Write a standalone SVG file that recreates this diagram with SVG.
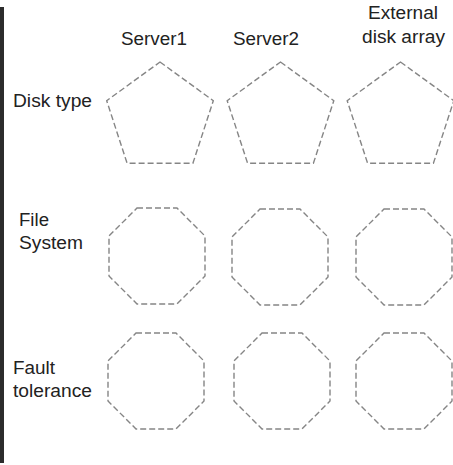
<svg xmlns="http://www.w3.org/2000/svg" width="453" height="465" viewBox="0 0 453 465">
<style>
.lbl{font-family:"Liberation Sans",Arial,sans-serif;font-size:17.5px;fill:#222}
.shape{fill:none;stroke:#858585;stroke-width:1.4;stroke-dasharray:6 3}
</style>
<rect x="0" y="0" width="453" height="465" fill="#ffffff"/>
<rect id="bar" x="0" y="7" width="4" height="456" fill="#2c2c2c"/>
<g id="headers">
<text class="lbl" x="121" y="45" textLength="66" lengthAdjust="spacingAndGlyphs">Server1</text>
<text class="lbl" x="233" y="45" textLength="66" lengthAdjust="spacingAndGlyphs">Server2</text>
<text class="lbl" x="368" y="18.5" textLength="70" lengthAdjust="spacingAndGlyphs">External</text>
<text class="lbl" x="362" y="42.5" textLength="83" lengthAdjust="spacingAndGlyphs">disk array</text>
</g>
<g id="rowlabels">
<text class="lbl" x="13" y="107" textLength="79" lengthAdjust="spacingAndGlyphs">Disk type</text>
<text class="lbl" x="19" y="226" textLength="30" lengthAdjust="spacingAndGlyphs">File</text>
<text class="lbl" x="19" y="248.5" textLength="64" lengthAdjust="spacingAndGlyphs">System</text>
<text class="lbl" x="13" y="374" textLength="42" lengthAdjust="spacingAndGlyphs">Fault</text>
<text class="lbl" x="13" y="397" textLength="79" lengthAdjust="spacingAndGlyphs">tolerance</text>
</g>
<g id="disk-server1"><polygon class="shape" points="160,62 213.3,100.7 192.9,163.3 127.1,163.3 106.7,100.7"/></g>
<g id="disk-server2"><polygon class="shape" points="280.5,62 333.8,100.7 313.4,163.3 247.6,163.3 227.2,100.7"/></g>
<g id="disk-array"><polygon class="shape" points="400.5,62 453.8,100.7 433.4,163.3 367.6,163.3 347.2,100.7"/></g>
<g id="fs-server1"><polygon class="shape" points="137,208 177,208 205,236 205,276 177,304 137,304 109,276 109,236"/></g>
<g id="fs-server2"><polygon class="shape" points="260,209 300,209 328,237 328,277 300,305 260,305 232,277 232,237"/></g>
<g id="fs-array"><polygon class="shape" points="384,209 424,209 452,237 452,277 424,305 384,305 356,277 356,237"/></g>
<g id="ft-server1"><polygon class="shape" points="136,333 176,333 204,361 204,401 176,429 136,429 108,401 108,361"/></g>
<g id="ft-server2"><polygon class="shape" points="262,333 302,333 330,361 330,401 302,429 262,429 234,401 234,361"/></g>
<g id="ft-array"><polygon class="shape" points="384,333 424,333 452,361 452,401 424,429 384,429 356,401 356,361"/></g>
<g id="connectors"></g>
</svg>
